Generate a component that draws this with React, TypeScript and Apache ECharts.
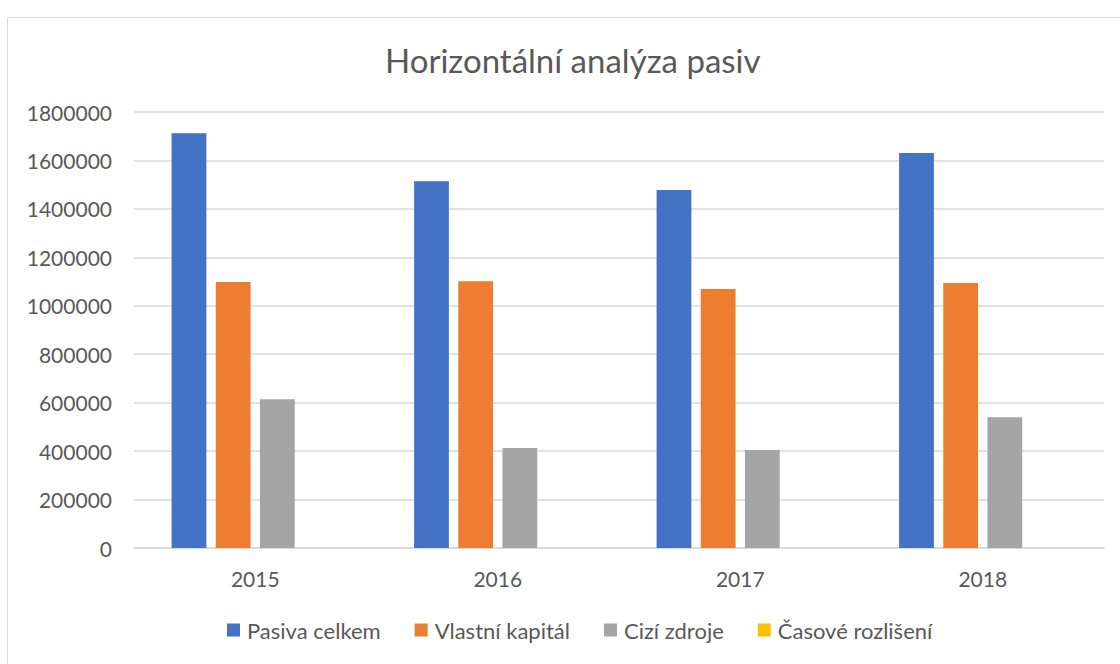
import React, { useEffect, useRef } from "react";
import * as echarts from "echarts";

const categories = ["2015", "2016", "2017", "2018"];
const seriesNames = ["Pasiva celkem", "Vlastní kapitál", "Cizí zdroje", "Časové rozlišení"];
const pasivaCelkem = [1712000, 1514000, 1478000, 1631000];
const vlastniKapital = [1098000, 1101000, 1069000, 1094000];
const ciziZdroje = [614000, 413000, 405000, 540000];
const casoveRozliseni = [0, 0, 0, 0];
const colors = ["#4472C4", "#ED7D31", "#A5A5A5", "#FFC000"];

const FONT = "Lato";
const TEXT = "#595959";

export default function App() {
  const ref = useRef<HTMLDivElement>(null);
  useEffect(() => {
    if (!ref.current) return;
    const chart = echarts.init(ref.current, undefined, { renderer: "svg" });
    const values = [pasivaCelkem, vlastniKapital, ciziZdroje, casoveRozliseni];
    chart.setOption({
      animation: false,
      backgroundColor: "#ffffff",
      title: {
        text: "Horizontální analýza pasiv",
        left: 380,
        top: 38,
        textStyle: { fontFamily: FONT, fontSize: 33, fontWeight: "normal", color: TEXT },
      },
      graphic: [
        {
          type: "rect",
          shape: { x: 7.5, y: 17.5, width: 1200, height: 800 },
          style: { fill: "none", stroke: "#D9D9D9", lineWidth: 1 },
          silent: true,
          z: -1,
        },
      ],
      legend: {
        bottom: 18,
        left: 222,
        itemWidth: 13,
        itemHeight: 13,
        itemGap: 34,
        icon: "rect",
        textStyle: { fontFamily: FONT, fontSize: 22, color: TEXT, padding: [0, 0, 0, 2] },
        data: seriesNames,
      },
      grid: { left: 134, right: 16, top: 112, bottom: 116 },
      xAxis: {
        type: "category",
        data: categories,
        axisLine: { lineStyle: { color: "#D9D9D9", width: 1.5 } },
        axisTick: { show: false },
        axisLabel: { fontFamily: FONT, fontSize: 21, color: TEXT, margin: 20 },
      },
      yAxis: {
        type: "value",
        min: 0,
        max: 1800000,
        interval: 200000,
        axisLine: { show: false },
        axisTick: { show: false },
        axisLabel: {
          fontFamily: FONT,
          fontSize: 21,
          color: TEXT,
          margin: 22,
          formatter: (v: number) => String(v),
        },
        splitLine: { lineStyle: { color: "#D9D9D9", width: 1.5 } },
      },
      series: seriesNames.map((name, i) => ({
        name,
        type: "bar",
        data: values[i],
        itemStyle: { color: colors[i] },
        barGap: "27%",
        barCategoryGap: "31%",
      })),
    });
    return () => chart.dispose();
  }, []);
  return <div ref={ref} style={{ width: 1120, height: 664, position: "absolute", left: 0, top: 0 }} />;
}
